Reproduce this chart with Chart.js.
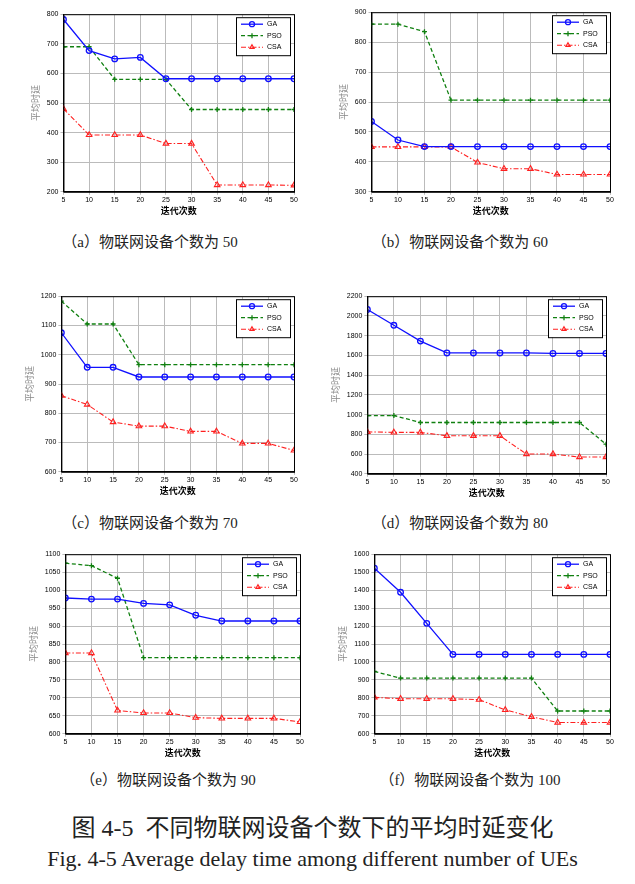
<!DOCTYPE html>
<html><head><meta charset="utf-8">
<script src="https://cdn.jsdelivr.net/npm/chart.js@4/dist/chart.umd.min.js"></script>
<style>
body{margin:0;background:#fff;width:635px;height:884px;position:relative;overflow:hidden;font-family:"Liberation Serif","Noto Sans CJK SC",serif}
.box{position:absolute}
.cap{position:absolute;font-size:15px;color:#222;white-space:nowrap;transform:translateX(-50%)}
.t{position:absolute;left:0;width:635px;text-align:center;color:#222;white-space:nowrap}
</style></head><body>
<div class="box" style="left:26px;top:8px;width:274px;height:212px"><canvas id="ca"></canvas></div>
<div class="box" style="left:334px;top:6px;width:282px;height:214px"><canvas id="cb"></canvas></div>
<div class="box" style="left:20px;top:290px;width:280px;height:210px"><canvas id="cc"></canvas></div>
<div class="box" style="left:326px;top:290px;width:286px;height:212px"><canvas id="cd"></canvas></div>
<div class="box" style="left:24px;top:548px;width:282px;height:214px"><canvas id="ce"></canvas></div>
<div class="box" style="left:333px;top:548px;width:283px;height:214px"><canvas id="cf"></canvas></div>
<div class="cap" style="left:150px;top:230px">（a）物联网设备个数为 50</div>
<div class="cap" style="left:460px;top:230px">（b）物联网设备个数为 60</div>
<div class="cap" style="left:150px;top:511px">（c）物联网设备个数为 70</div>
<div class="cap" style="left:460px;top:511px">（d）物联网设备个数为 80</div>
<div class="cap" style="left:168px;top:768px">（e）物联网设备个数为 90</div>
<div class="cap" style="left:470px;top:768px">（f）物联网设备个数为 100</div>
<div class="t" style="top:808px;font-size:24px;left:-5px">图 4-5 &nbsp;不同物联网设备个数下的平均时延变化</div>
<div class="t" style="top:846px;font-size:22px;left:-5px">Fig. 4-5 Average delay time among different number of UEs</div>
<script>
const iterations = [5,10,15,20,25,30,35,40,45,50];
const gaA = [782,677,649,654,582,582,582,582,582,582];
const psoA = [690,690,580,580,580,478,478,478,478,478];
const csaA = [480,392,392,392,363,363,223,223,223,222];
const gaB = [535,473,451,451,451,451,451,451,451,451];
const psoB = [860,860,835,606,606,606,606,606,606,606];
const csaB = [450,450,450,450,398,377,377,358,358,358];
const gaC = [1075,957,957,924,924,924,924,924,924,924];
const psoC = [1183,1105,1105,966,966,966,966,966,966,966];
const csaC = [860,830,770,756,756,738,738,697,697,673];
const gaD = [2065,1905,1745,1625,1625,1625,1625,1620,1620,1620];
const psoD = [990,990,920,920,920,920,920,920,920,700];
const csaD = [825,820,820,785,785,785,600,600,570,570];
const gaE = [978,975,975,963,959,930,914,914,914,914];
const psoE = [1075,1068,1033,812,812,812,812,812,812,812];
const csaE = [825,825,665,658,658,645,643,643,643,633];
const gaF = [1522,1388,1215,1042,1042,1042,1042,1042,1042,1042];
const psoF = [947,910,910,910,910,910,910,727,727,727];
const csaF = [803,795,795,795,790,733,695,663,663,663];

const insideLegend = {
  id:'insideLegend',
  afterDraw(chart){
    const {ctx, chartArea} = chart;
    // frame around plot
    ctx.save();
    ctx.strokeStyle='#000'; ctx.lineWidth=1;
    ctx.strokeRect(chartArea.left+0.5, chartArea.top+0.5, chartArea.width, chartArea.height);
    const w = 54, h = 38, x = chartArea.right - w - 4, y = chartArea.top + 3;
    ctx.fillStyle='#fff'; ctx.fillRect(x,y,w,h);
    ctx.strokeRect(x+0.5,y+0.5,w,h);
    chart.data.datasets.forEach((ds,i)=>{
      const ly = y + 7 + i*11.5;
      ctx.strokeStyle = ds.borderColor; ctx.lineWidth = ds.borderWidth;
      ctx.setLineDash(ds.borderDash || []);
      ctx.beginPath(); ctx.moveTo(x+5,ly); ctx.lineTo(x+27,ly); ctx.stroke();
      ctx.setLineDash([]);
      ctx.fillStyle = ds.backgroundColor;
      Chart.helpers.drawPoint(ctx,{pointStyle:ds.pointStyle,radius:2.5,borderWidth:1},x+16,ly);
      ctx.fillStyle='#000'; ctx.font='7px "Liberation Sans", Arial';
      ctx.textBaseline='middle'; ctx.fillText(ds.label,x+31,ly);
    });
    ctx.restore();
  }
};

function makeChart(id, ga, pso, csa, min, max, step){
  const pts = arr => arr.map((v,i)=>({x:iterations[i], y:v}));
  new Chart(document.getElementById(id), {
    type:'line',
    data:{datasets:[
      {label:'GA', data:pts(ga), borderColor:'#1010ff', backgroundColor:'rgba(0,0,0,0)', pointBorderColor:'#1010ff', borderWidth:1.3, pointStyle:'circle', pointRadius:2.8},
      {label:'PSO', data:pts(pso), borderColor:'#108010', backgroundColor:'#108010', pointBorderColor:'#108010', borderWidth:1.3, borderDash:[4,2.5], pointStyle:'cross', pointRadius:2.5},
      {label:'CSA', data:pts(csa), borderColor:'#ff2020', backgroundColor:'rgba(0,0,0,0)', pointBorderColor:'#ff2020', borderWidth:1.1, borderDash:[5,2,1.5,2], pointStyle:'triangle', pointRadius:3.2}
    ]},
    options:{
      responsive:true, maintainAspectRatio:false, animation:false,
      layout:{padding:{right:6,top:4}},
      plugins:{legend:{display:false}, tooltip:{enabled:false}},
      scales:{
        x:{type:'linear', min:5, max:50,
           ticks:{stepSize:5, font:{size:7, family:'"Liberation Sans", Arial'}, color:'#000', padding:1},
           grid:{color:'#bbb', tickLength:3}, border:{color:'#000'},
           title:{display:true, text:'迭代次数', font:{size:9, weight:'bold', family:'"Noto Sans CJK SC"'}, color:'#000', padding:{top:0}}},
        y:{min:min, max:max,
           ticks:{stepSize:step, font:{size:7, family:'"Liberation Sans", Arial'}, color:'#000', padding:2, callback:v=>String(v)},
           grid:{color:'#bbb', tickLength:3}, border:{color:'#000'},
           title:{display:true, text:'平均时延', font:{size:9, family:'"Noto Sans CJK SC"'}, color:'#888', padding:{bottom:4}}}
      }
    },
    plugins:[insideLegend]
  });
}
makeChart('ca', gaA, psoA, csaA, 200, 800, 100);
makeChart('cb', gaB, psoB, csaB, 300, 900, 100);
makeChart('cc', gaC, psoC, csaC, 600, 1200, 100);
makeChart('cd', gaD, psoD, csaD, 400, 2200, 200);
makeChart('ce', gaE, psoE, csaE, 600, 1100, 50);
makeChart('cf', gaF, psoF, csaF, 600, 1600, 100);
</script>
</body></html>
